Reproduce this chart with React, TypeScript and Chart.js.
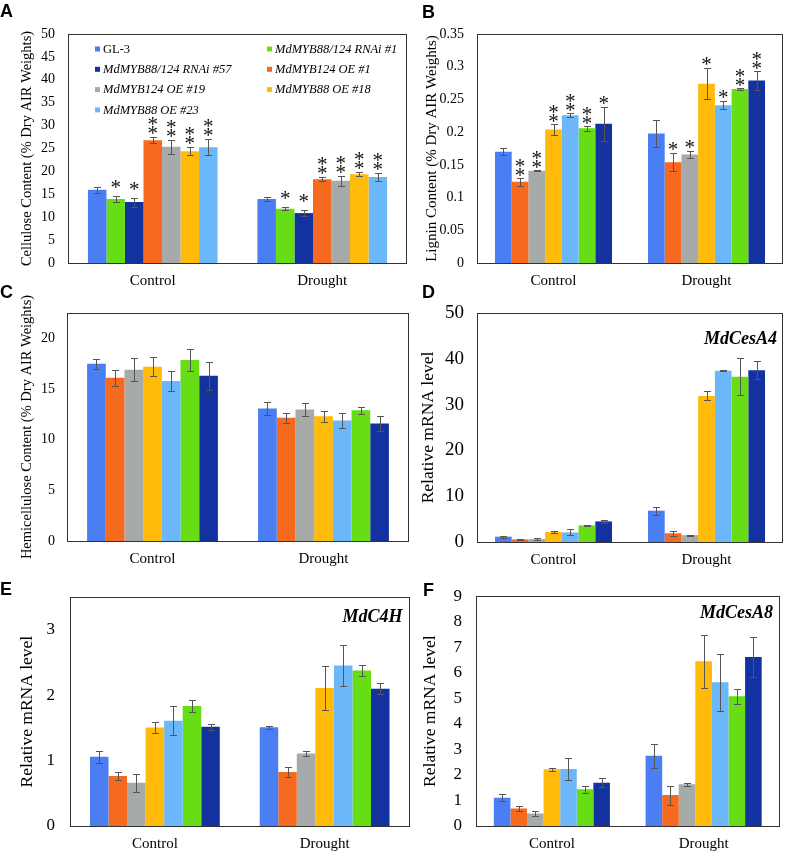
import React, { useEffect, useRef } from 'react';
import { Chart, registerables } from 'chart.js';

Chart.register(...registerables);

const SERIF = "'Liberation Serif', 'Times New Roman', Times, serif";
const SANS = "'Liberation Sans', Arial, Helvetica, sans-serif";

// ---------- data ----------
const categories = ['Control', 'Drought'];
const seriesNames = [
  'GL-3',
  'MdMYB88/124 RNAi #1',
  'MdMYB88/124 RNAi #57',
  'MdMYB124 OE #1',
  'MdMYB124 OE #19',
  'MdMYB88 OE #18',
  'MdMYB88 OE #23',
];
const seriesColors = ['#4a7ef2', '#66dd14', '#1431a0', '#f56a1e', '#a6abaa', '#ffba0a', '#6cb6fa'];
// bar order in panel A, and in panels B-F (indices into seriesNames)
const orderA = [0, 1, 2, 3, 4, 5, 6];
const orderRest = [0, 3, 4, 5, 6, 1, 2];

// A: Cellulose content (order A)
const celluloseControl = [16.0, 14.0, 13.3, 26.8, 25.4, 24.4, 25.3];
const celluloseControlErr = [0.7, 0.6, 1.0, 0.65, 1.5, 0.9, 1.7];
const celluloseControlStars = [0, 1, 1, 2, 2, 2, 2];
const celluloseDrought = [13.95, 11.85, 10.9, 18.3, 17.95, 19.4, 18.8];
const celluloseDroughtErr = [0.45, 0.3, 0.6, 0.4, 1.1, 0.45, 0.9];
const celluloseDroughtStars = [0, 1, 1, 2, 2, 2, 2];

// B: Lignin content (order rest)
const ligninControl = [0.170, 0.124, 0.141, 0.204, 0.226, 0.206, 0.213];
const ligninControlErr = [0.005, 0.006, 0.001, 0.009, 0.003, 0.004, 0.026];
const ligninControlStars = [0, 2, 2, 2, 2, 2, 1];
const ligninDrought = [0.198, 0.154, 0.166, 0.274, 0.241, 0.266, 0.279];
const ligninDroughtErr = [0.021, 0.014, 0.0055, 0.024, 0.006, 0.001, 0.014];
const ligninDroughtStars = [0, 1, 1, 1, 1, 2, 2];

// C: Hemicellulose content
const hemiControl = [17.5, 16.1, 16.9, 17.2, 15.8, 17.85, 16.3];
const hemiControlErr = [0.5, 0.8, 1.15, 0.95, 0.95, 1.1, 1.4];
const hemiDrought = [13.08, 12.16, 12.98, 12.3, 11.9, 12.9, 11.6];
const hemiDroughtErr = [0.65, 0.5, 0.6, 0.55, 0.7, 0.35, 0.7];

// D: MdCesA4
const cesA4Control = [1.16, 0.58, 0.62, 2.18, 2.1, 3.62, 4.5];
const cesA4ControlErr = [0.2, 0.15, 0.2, 0.15, 0.65, 0.2, 0.25];
const cesA4Drought = [6.84, 1.9, 1.5, 31.9, 37.4, 36.1, 37.5];
const cesA4DroughtErr = [0.85, 0.55, 0.1, 1.0, 0.15, 4.1, 2.0];

// E: MdC4H
const c4hControl = [1.06, 0.766, 0.663, 1.507, 1.61, 1.836, 1.52];
const c4hControlErr = [0.09, 0.065, 0.14, 0.08, 0.225, 0.095, 0.045];
const c4hDrought = [1.512, 0.825, 1.11, 2.11, 2.455, 2.38, 2.1];
const c4hDroughtErr = [0.025, 0.08, 0.04, 0.33, 0.32, 0.08, 0.08];

// F: MdCesA8
const cesA8Control = [1.11, 0.69, 0.49, 2.22, 2.23, 1.44, 1.69];
const cesA8ControlErr = [0.15, 0.1, 0.08, 0.05, 0.42, 0.14, 0.18];
const cesA8Drought = [2.75, 1.21, 1.64, 6.45, 5.63, 5.08, 6.62];
const cesA8DroughtErr = [0.47, 0.37, 0.06, 1.03, 1.12, 0.3, 0.8];

// y-axis tick settings
const yMaxA = 50, yStepA = 5;
const yMaxB = 0.35, yStepB = 0.05;
const yMaxC = 22.5, yStepC = 5;
const yMaxD = 50, yStepD = 10;
const yMaxE = 3.5, yStepE = 1;
const yMaxF = 9, yStepF = 1;

// ---------- layout / style ----------
type Panel = {
  key: string;
  letter: string;
  letterPos: [number, number];
  canvas: { x: number; y: number; w: number; h: number };
  area: { l: number; r: number; t: number; b: number };
  order: number[];
  control: number[];
  controlErr: number[];
  drought: number[];
  droughtErr: number[];
  controlStars?: number[];
  droughtStars?: number[];
  yMax: number;
  yStep: number;
  tickSize: number;
  tickPad: number;
  title: string;
  titleSize: number;
  titleCenter: number;
  gene?: string;
  genePos?: [number, number];
  legend?: boolean;
  singleGap: number;
  doubleGap: number;
};

const panels: Panel[] = [
  {
    key: 'A', letter: 'A', letterPos: [0, 17],
    canvas: { x: 0, y: 0, w: 412, h: 298 },
    area: { l: 68, r: 407, t: 34, b: 263 },
    order: orderA,
    control: celluloseControl, controlErr: celluloseControlErr, controlStars: celluloseControlStars,
    drought: celluloseDrought, droughtErr: celluloseDroughtErr, droughtStars: celluloseDroughtStars,
    yMax: yMaxA, yStep: yStepA, tickSize: 14, tickPad: 13,
    title: 'Cellulose Content (% Dry AIR Weights)', titleSize: 14.5, titleCenter: 27,
    legend: true, singleGap: 12, doubleGap: 7,
  },
  {
    key: 'B', letter: 'B', letterPos: [422, 18],
    canvas: { x: 412, y: 0, w: 373, h: 298 },
    area: { l: 477, r: 783, t: 34, b: 263 },
    order: orderRest,
    control: ligninControl, controlErr: ligninControlErr, controlStars: ligninControlStars,
    drought: ligninDrought, droughtErr: ligninDroughtErr, droughtStars: ligninDroughtStars,
    yMax: yMaxB, yStep: yStepB, tickSize: 14, tickPad: 13,
    title: 'Lignin Content (% Dry AIR Weights)', titleSize: 15, titleCenter: 432,
    singleGap: 7, doubleGap: 6,
  },
  {
    key: 'C', letter: 'C', letterPos: [0, 298],
    canvas: { x: 0, y: 284, w: 412, h: 288 },
    area: { l: 67, r: 409, t: 313, b: 541 },
    order: orderRest,
    control: hemiControl, controlErr: hemiControlErr,
    drought: hemiDrought, droughtErr: hemiDroughtErr,
    yMax: yMaxC, yStep: yStepC, tickSize: 14, tickPad: 12,
    title: 'Hemicellulose Content (% Dry AIR Weights)', titleSize: 14.5, titleCenter: 27,
    singleGap: 6, doubleGap: 6,
  },
  {
    key: 'D', letter: 'D', letterPos: [422, 298],
    canvas: { x: 412, y: 284, w: 373, h: 288 },
    area: { l: 477, r: 783, t: 313, b: 542 },
    order: orderRest,
    control: cesA4Control, controlErr: cesA4ControlErr,
    drought: cesA4Drought, droughtErr: cesA4DroughtErr,
    yMax: yMaxD, yStep: yStepD, tickSize: 19, tickPad: 13,
    title: 'Relative mRNA level', titleSize: 17.5, titleCenter: 428,
    gene: 'MdCesA4', genePos: [777, 339],
    singleGap: 6, doubleGap: 6,
  },
  {
    key: 'E', letter: 'E', letterPos: [0, 595],
    canvas: { x: 0, y: 572, w: 412, h: 280 },
    area: { l: 70, r: 409.5, t: 588, b: 826 },
    order: orderRest,
    control: c4hControl, controlErr: c4hControlErr,
    drought: c4hDrought, droughtErr: c4hDroughtErr,
    yMax: yMaxE, yStep: yStepE, tickSize: 17, tickPad: 15,
    title: 'Relative mRNA level', titleSize: 17.5, titleCenter: 27,
    gene: 'MdC4H', genePos: [402.5, 617],
    singleGap: 6, doubleGap: 6,
  },
  {
    key: 'F', letter: 'F', letterPos: [423, 596],
    canvas: { x: 412, y: 572, w: 373, h: 280 },
    area: { l: 476, r: 779.5, t: 588, b: 826 },
    order: orderRest,
    control: cesA8Control, controlErr: cesA8ControlErr,
    drought: cesA8Drought, droughtErr: cesA8DroughtErr,
    yMax: yMaxF, yStep: yStepF, tickSize: 17, tickPad: 14,
    title: 'Relative mRNA level', titleSize: 17.5, titleCenter: 430,
    gene: 'MdCesA8', genePos: [773, 613],
    singleGap: 6, doubleGap: 6,
  },
];

const CAT_PCT = 0.765;
const ERR_COLOR = '#555555';
const FRAME_COLOR = '#333333';
const STAR_SIZE = 21;
const STAR_STEP = 9.5;
const CAP = 3.5;

function formatTick(v: number) {
  return String(parseFloat(Number(v).toFixed(4)));
}

function buildChart(canvas: HTMLCanvasElement, p: Panel) {
  const cx = p.canvas.x;
  const cy = p.canvas.y;
  const yWidth = p.area.l - cx;
  const xHeight = cy + p.canvas.h - p.area.b;
  const padTop = p.area.t - cy;
  const padRight = cx + p.canvas.w - p.area.r;
  const titleLH = p.titleSize * 1.2;
  const titlePad = p.titleCenter - cx - titleLH / 2;

  const datasets = p.order.map((si, k) => ({
    label: seriesNames[si],
    data: [p.control[k], p.drought[k]],
    errors: [p.controlErr[k], p.droughtErr[k]],
    stars: [p.controlStars ? p.controlStars[k] : 0, p.droughtStars ? p.droughtStars[k] : 0],
    backgroundColor: seriesColors[si],
    borderWidth: 0,
    barPercentage: 1,
    categoryPercentage: CAT_PCT,
  }));

  const decor = {
    id: 'decor',
    afterDatasetsDraw(chart: any) {
      const ctx = chart.ctx;
      const ys = chart.scales.y;
      chart.data.datasets.forEach((ds: any, i: number) => {
        const meta = chart.getDatasetMeta(i);
        meta.data.forEach((el: any, j: number) => {
          const v = ds.data[j];
          const e = ds.errors[j];
          const x = Math.round(el.x) + 0.5;
          const yt = Math.round(ys.getPixelForValue(v + e)) + 0.5;
          const yb = Math.round(ys.getPixelForValue(v - e)) + 0.5;
          ctx.save();
          ctx.strokeStyle = ERR_COLOR;
          ctx.lineWidth = 1;
          ctx.beginPath();
          ctx.moveTo(x, yt);
          ctx.lineTo(x, yb);
          ctx.moveTo(x - CAP, yt);
          ctx.lineTo(x + CAP, yt);
          ctx.moveTo(x - CAP, yb);
          ctx.lineTo(x + CAP, yb);
          ctx.stroke();
          const n = ds.stars[j];
          if (n) {
            ctx.fillStyle = '#111';
            ctx.font = `${STAR_SIZE}px ${SERIF}`;
            ctx.textAlign = 'center';
            ctx.textBaseline = 'alphabetic';
            const first = n === 1 ? p.singleGap : p.doubleGap;
            for (let s = 0; s < n; s++) {
              const c = yt - first - s * STAR_STEP;
              ctx.fillText('*', el.x, c + 0.47 * STAR_SIZE);
            }
          }
          ctx.restore();
        });
      });
    },
    afterDraw(chart: any) {
      const ctx = chart.ctx;
      const a = chart.chartArea;
      ctx.save();
      ctx.strokeStyle = FRAME_COLOR;
      ctx.lineWidth = 1;
      ctx.strokeRect(Math.round(a.left) + 0.5, Math.round(a.top) + 0.5,
        Math.round(a.right - a.left) - 1, Math.round(a.bottom - a.top));
      // panel letter
      ctx.fillStyle = '#000';
      ctx.font = `bold 18px ${SANS}`;
      ctx.textAlign = 'left';
      ctx.textBaseline = 'alphabetic';
      ctx.fillText(p.letter, p.letterPos[0] - cx, p.letterPos[1] - cy);
      // gene label
      if (p.gene && p.genePos) {
        ctx.font = `italic bold 18px ${SERIF}`;
        ctx.textAlign = 'right';
        ctx.textBaseline = 'middle';
        ctx.fillText(p.gene, p.genePos[0] - cx, p.genePos[1] - cy);
      }
      // legend
      if (p.legend) {
        const colBox = [95, 267];
        const rowY = 49;
        const rowStep = 20.3;
        p.order.forEach((si, k) => {
          const col = k % 2;
          const row = Math.floor(k / 2);
          const yy = rowY + row * rowStep - cy;
          const bx = colBox[col] - cx;
          ctx.fillStyle = seriesColors[si];
          ctx.fillRect(bx, yy - 2.5, 5, 5);
          ctx.fillStyle = '#000';
          ctx.font = `${si === 0 ? '' : 'italic '}12.5px ${SERIF}`;
          ctx.textAlign = 'left';
          ctx.textBaseline = 'middle';
          ctx.fillText(seriesNames[si], bx + 8, yy + 0.5);
        });
      }
      ctx.restore();
    },
  };

  return new Chart(canvas, {
    type: 'bar',
    data: { labels: categories, datasets: datasets as any },
    options: {
      responsive: false,
      animation: false,
      devicePixelRatio: 1,
      layout: { padding: { top: padTop, right: padRight, left: 0, bottom: 0 } },
      plugins: {
        legend: { display: false },
        tooltip: { enabled: false },
      },
      scales: {
        x: {
          type: 'category',
          grid: { display: false, drawTicks: false },
          border: { display: false },
          ticks: { color: '#000', font: { family: SERIF, size: 15 }, padding: 9 },
          afterFit: (s: any) => { s.height = xHeight; },
        },
        y: {
          type: 'linear',
          min: 0,
          max: p.yMax,
          grid: { display: false, drawTicks: false },
          border: { display: false },
          ticks: {
            stepSize: p.yStep,
            includeBounds: false,
            color: '#000',
            font: { family: SERIF, size: p.tickSize },
            padding: p.tickPad,
            callback: (v: any) => formatTick(v),
          },
          title: {
            display: true,
            text: p.title,
            color: '#000',
            font: { family: SERIF, size: p.titleSize },
            padding: { top: titlePad, bottom: 0 },
          },
          afterFit: (s: any) => { s.width = yWidth; },
        },
      },
    } as any,
    plugins: [decor],
  });
}

function PanelChart({ p }: { p: Panel }) {
  const ref = useRef<HTMLCanvasElement | null>(null);
  useEffect(() => {
    if (!ref.current) return;
    const chart = buildChart(ref.current, p);
    return () => chart.destroy();
  }, [p]);
  return (
    <canvas
      ref={ref}
      width={p.canvas.w}
      height={p.canvas.h}
      style={{
        position: 'absolute',
        left: p.canvas.x,
        top: p.canvas.y,
        width: p.canvas.w,
        height: p.canvas.h,
        display: 'block',
      }}
    />
  );
}

export default function App() {
  return (
    <div
      style={{
        position: 'absolute',
        left: 0,
        top: 0,
        width: 785,
        height: 852,
        background: '#fff',
        overflow: 'hidden',
      }}
    >
      {panels.map((p) => (
        <PanelChart key={p.key} p={p} />
      ))}
    </div>
  );
}
